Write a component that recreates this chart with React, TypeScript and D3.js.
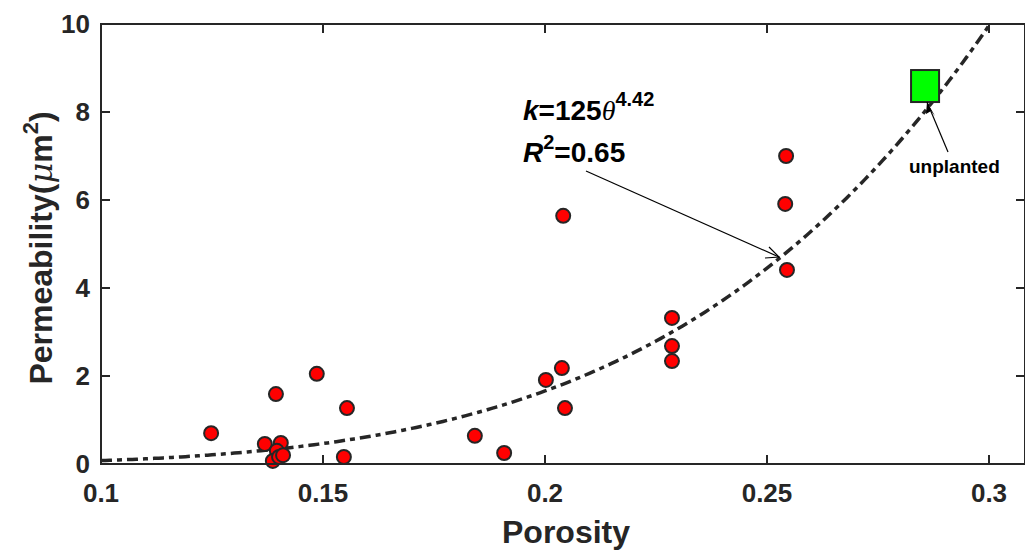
import React from "react";
import * as d3 from "d3";

// measured samples: porosity (theta) and permeability (um^2)
const porosity = [
  0.1248, 0.1369, 0.1405, 0.1396, 0.1387, 0.1401, 0.141, 0.1394, 0.1486,
  0.1554, 0.1547, 0.1842, 0.1908, 0.2002, 0.2038, 0.2041, 0.2045, 0.2286,
  0.2286, 0.2286, 0.2543, 0.2541, 0.2545,
];
const permeability = [
  0.7, 0.455, 0.477, 0.3, 0.07, 0.16, 0.2, 1.59, 2.05, 1.27, 0.16, 0.64,
  0.25, 1.91, 2.18, 5.64, 1.27, 3.32, 2.68, 2.34, 7.0, 5.91, 4.41,
];

// unplanted sample
const unplantedPorosity = 0.2856;
const unplantedPerm = 8.59;

// fitted power law curve as drawn
const fitA = 2040;
const fitB = 4.42;
const fitRange = [0.1, 0.3];

const xTicks = [0.1, 0.15, 0.2, 0.25, 0.3];
const xTickLabels = ["0.1", "0.15", "0.2", "0.25", "0.3"];
const yTicks = [0, 2, 4, 6, 8, 10];

const W = 1025;
const H = 552;
const left = 101;
const right = 1025;
const top = 24;
const bottom = 464;
const axisColor = "#262626";
const font = "'Liberation Sans', Arial, Helvetica, sans-serif";

export default function App() {
  const x = d3.scaleLinear().domain([0.1, 0.1 + (right - left) / 4440]).range([left, right]);
  const y = d3.scaleLinear().domain([0, 10]).range([bottom, top]);

  const fitPts = d3.range(0, 201).map((i) => {
    const t = fitRange[0] + ((fitRange[1] - fitRange[0]) * i) / 200;
    return [t, fitA * Math.pow(t, fitB)] as [number, number];
  });
  const fitLine = d3
    .line<[number, number]>()
    .x((d) => x(d[0]))
    .y((d) => y(d[1]));

  const pts = porosity.map((p, i) => ({ p, k: permeability[i] }));
  const ux = x(unplantedPorosity);
  const uy = y(unplantedPerm);

  return (
    <svg
      width={W}
      height={H}
      style={{ position: "absolute", left: 0, top: 0, background: "#fff" }}
      fontFamily={font}
    >
      <defs>
        <clipPath id="plot">
          <rect x={left} y={top} width={right - left} height={bottom - top} />
        </clipPath>
      </defs>

      {/* fit curve */}
      <path
        d={fitLine(fitPts) || ""}
        fill="none"
        stroke={axisColor}
        strokeWidth={3.5}
        strokeDasharray="11,5,5,5"
        clipPath="url(#plot)"
      />

      {/* points */}
      {pts.map((d, i) => (
        <circle
          key={i}
          cx={x(d.p)}
          cy={y(d.k)}
          r={7}
          fill="#ff0000"
          stroke={axisColor}
          strokeWidth={2}
        />
      ))}

      {/* unplanted square */}
      <rect
        x={ux - 14}
        y={uy - 16}
        width={28}
        height={32}
        fill="#00ff00"
        stroke={axisColor}
        strokeWidth={2}
      />

      {/* axes box */}
      <g stroke={axisColor} strokeWidth={2} fill="none">
        <rect x={left} y={top} width={right - left} height={bottom - top} />
        {xTicks.map((t) => (
          <g key={t}>
            <line x1={x(t)} x2={x(t)} y1={bottom} y2={bottom - 9} />
            <line x1={x(t)} x2={x(t)} y1={top} y2={top + 9} />
          </g>
        ))}
        {yTicks.map((t) => (
          <g key={t}>
            <line x1={left} x2={left + 9} y1={y(t)} y2={y(t)} />
            <line x1={right} x2={right - 9} y1={y(t)} y2={y(t)} />
          </g>
        ))}
      </g>

      {/* tick labels */}
      <g fill={axisColor} fontWeight="bold" fontSize={26}>
        {xTicks.map((t, i) => (
          <text key={t} x={x(t)} y={502} textAnchor="middle">
            {xTickLabels[i]}
          </text>
        ))}
        {yTicks.map((t) => (
          <text key={t} x={90} y={y(t) + 9} textAnchor="end">
            {t}
          </text>
        ))}
      </g>

      {/* axis labels */}
      <text
        x={566}
        y={543}
        textAnchor="middle"
        fontSize={32}
        fontWeight="bold"
        fill={axisColor}
      >
        Porosity
      </text>
      <text
        transform={`translate(52,${248}) rotate(-90)`}
        textAnchor="middle"
        fontSize={32}
        fontWeight="bold"
        fill={axisColor}
      >
        Permeability(
        <tspan fontFamily="'DejaVu Serif', 'Liberation Serif', serif" fontStyle="italic" fontWeight="normal">
          μ
        </tspan>
        m
        <tspan fontSize={22} dy={-14}>
          2
        </tspan>
        <tspan dy={14}>)</tspan>
      </text>

      {/* equation annotation */}
      <text x={523} y={120} fontSize={28} fontWeight="bold" fill="#000">
        <tspan fontStyle="italic">k</tspan>=125
        <tspan fontFamily="'Liberation Serif', 'Times New Roman', serif" fontStyle="italic" fontWeight="normal">
          θ
        </tspan>
        <tspan fontSize={20} dy={-14}>
          4.42
        </tspan>
      </text>
      <text x={523} y={162} fontSize={28} fontWeight="bold" fill="#000">
        <tspan fontStyle="italic">R</tspan>
        <tspan fontSize={20} dy={-13}>
          2
        </tspan>
        <tspan dy={13}>=0.65</tspan>
      </text>
      <g stroke="#000" strokeWidth={1.2} fill="none">
        <line x1={586} y1={171} x2={779} y2={257} />
        <path d="M765,258 L779,257 L769,247" />
      </g>

      {/* unplanted annotation */}
      <g stroke="#000" strokeWidth={1.2} fill="none">
        <line x1={948} y1={152} x2={927} y2={102} />
      </g>
      <path d="M927,102 L926,114 L931,111 L935,116 Z" fill="#000" />
      <text x={909} y={173} fontSize={19} fontWeight="bold" fill="#000">
        unplanted
      </text>
    </svg>
  );
}
